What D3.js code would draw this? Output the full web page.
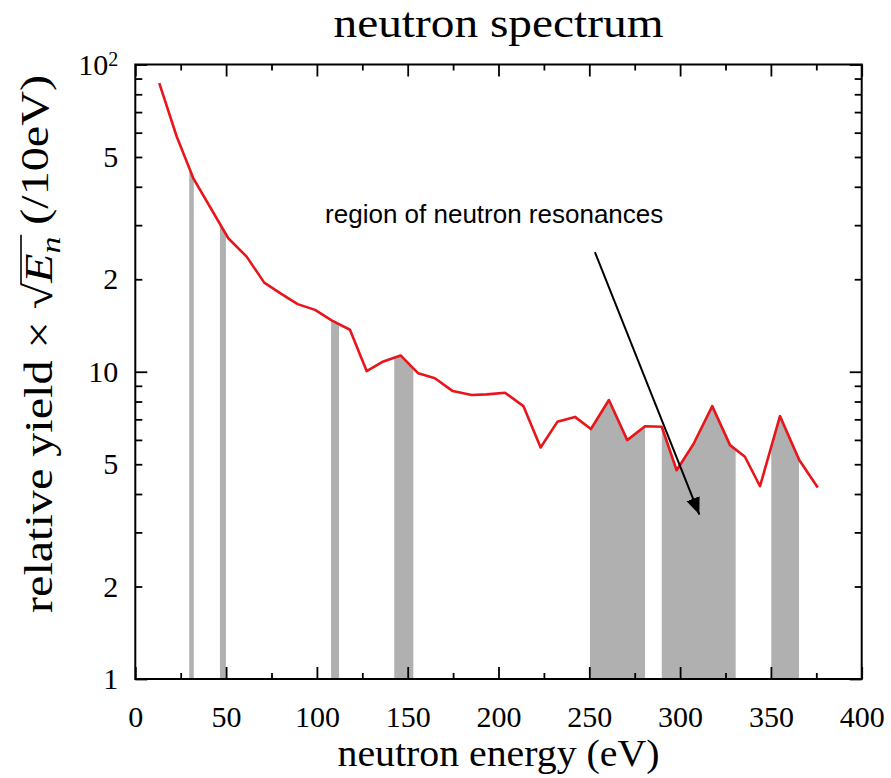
<!DOCTYPE html>
<html>
<head>
<meta charset="utf-8">
<script src="https://cdnjs.cloudflare.com/ajax/libs/d3/7.8.5/d3.min.js"></script>
<style>
body { margin: 0; background: #fff; }
.tick line { stroke: #000; stroke-width: 1.8; }
</style>
</head>
<body>
<svg id="chart" width="891" height="778"></svg>
<script>
// red curve: neutron energy (eV) / relative yield x sqrt(En)
const energy = [13.2, 22.8, 31.9, 51.2, 61.3, 71.0, 80.6, 89.4, 99.0, 108.1, 118.2, 127.4, 136.6,
	146.1, 155.8, 165.0, 174.8, 185.2, 193.5, 203.6, 213.7, 223.2, 232.4, 242.1, 250.9, 260.8,
	270.9, 280.7, 289.9, 298.1, 307.3, 317.7, 327.5, 335.7, 344.0, 355.0, 365.6, 375.8];
const yieldSqrtE = [87.0, 58.3, 42.7, 27.2, 23.7, 19.5, 17.9, 16.6, 15.9, 14.7, 13.7, 10.05, 10.8,
	11.3, 9.88, 9.52, 8.65, 8.40, 8.44, 8.54, 7.73, 5.67, 6.87, 7.13, 6.51, 8.09,
	5.99, 6.65, 6.62, 4.78, 5.81, 7.73, 5.77, 5.29, 4.24, 7.17, 5.16, 4.20];

// grey resonance windows (eV)
const bandFrom = [29.7, 46.6, 107.8, 142.6, 250.4, 289.9, 350.2];
const bandTo = [32.2, 49.9, 112.2, 153.1, 280.7, 330.6, 365.5];

const xMajorTicks = [0, 50, 100, 150, 200, 250, 300, 350, 400];
const xMinorTicks = [25, 75, 125, 175, 225, 275, 325, 375];
const yMajorTicks = [1, 10, 100];
const yMinorTicks = [2, 3, 4, 5, 6, 7, 8, 9, 20, 30, 40, 50, 60, 70, 80, 90];
const yLabelTicks = [1, 2, 5, 10, 20, 50, 100];
const yLabelText = ["1", "2", "5", "10", "2", "5", "10^2"];

// annotation anchor points, in data units
const noteText = "region of neutron resonances";
const notePos = [104.5, 30.5];
const arrowFrom = [253.1, 24.5];
const arrowTo = [310.6, 3.43];

const pLeft = 135.3, pRight = 861.7, pTop = 64.5, pBottom = 679;
const SERIF = "'Liberation Serif', 'Times New Roman', serif";

const svg = d3.select('#chart');
const x = d3.scaleLinear().domain([0, 400]).range([pLeft, pRight]);
const y = d3.scaleLog().domain([1, 100]).range([pBottom, pTop]);

const pts = energy.map((e, i) => [e, yieldSqrtE[i]]);

// shaded windows = area under the curve clipped to each window
const clip = svg.append('defs').append('clipPath').attr('id', 'bands');
clip.selectAll('rect').data(bandFrom).join('rect')
	.attr('x', (d, i) => x(d))
	.attr('width', (d, i) => x(bandTo[i]) - x(d))
	.attr('y', pTop)
	.attr('height', pBottom - pTop);

svg.append('path')
	.datum(pts)
	.attr('clip-path', 'url(#bands)')
	.attr('fill', '#b0b0b0')
	.attr('d', d3.area().x(d => x(d[0])).y0(pBottom).y1(d => y(d[1])));

svg.append('path')
	.datum(pts)
	.attr('fill', 'none')
	.attr('stroke', '#e8161b')
	.attr('stroke-width', 2.6)
	.attr('stroke-linejoin', 'round')
	.attr('d', d3.line().x(d => x(d[0])).y(d => y(d[1])));

// axes: ticks point inwards on all four sides
var addAxis = function(axis, tx, ty) {
	var g = svg.append('g').attr('transform', 'translate(' + tx + ',' + ty + ')').call(axis);
	g.select('.domain').remove();
	return g;
};
const none = () => "";
addAxis(d3.axisBottom(x).tickValues(xMinorTicks).tickSize(-6).tickFormat(none), 0, pBottom);
addAxis(d3.axisTop(x).tickValues(xMinorTicks).tickSize(-6).tickFormat(none), 0, pTop);
addAxis(d3.axisTop(x).tickValues(xMajorTicks).tickSize(-12).tickFormat(none), 0, pTop);
var xg = addAxis(d3.axisBottom(x).tickValues(xMajorTicks).tickSize(-12).tickPadding(27), 0, pBottom);
xg.selectAll('text').attr('font-family', SERIF).attr('font-size', 30).attr('fill', '#000');

addAxis(d3.axisLeft(y).tickValues(yMinorTicks).tickSize(-7).tickFormat(none), pLeft, 0);
addAxis(d3.axisRight(y).tickValues(yMinorTicks).tickSize(-7).tickFormat(none), pRight, 0);
addAxis(d3.axisLeft(y).tickValues(yMajorTicks).tickSize(-12).tickFormat(none), pLeft, 0);
addAxis(d3.axisRight(y).tickValues(yMajorTicks).tickSize(-12).tickFormat(none), pRight, 0);
var yg = addAxis(d3.axisLeft(y).tickValues(yLabelTicks).tickSize(0).tickPadding(17)
	.tickFormat((d, i) => yLabelText[i]), pLeft, 0);
yg.selectAll('text').attr('font-family', SERIF).attr('font-size', 30).attr('fill', '#000');
// 10^2 gets a real superscript
yg.selectAll('text').filter(d => d === 100).each(function() {
	var t = d3.select(this).text('');
	t.append('tspan').text('10');
	t.append('tspan').attr('font-size', 20).attr('dy', '-0.45em').text('2');
});
yg.selectAll('.tick line').remove();

svg.append('rect')
	.attr('x', pLeft).attr('y', pTop)
	.attr('width', pRight - pLeft).attr('height', pBottom - pTop)
	.attr('fill', 'none').attr('stroke', '#000').attr('stroke-width', 2);

// titles
svg.append('text')
	.attr('x', (pLeft + pRight) / 2).attr('y', 37)
	.attr('text-anchor', 'middle')
	.attr('font-family', SERIF).attr('font-size', 43)
	.attr('textLength', 330).attr('lengthAdjust', 'spacingAndGlyphs')
	.text('neutron spectrum');

svg.append('text')
	.attr('x', (pLeft + pRight) / 2).attr('y', 766)
	.attr('text-anchor', 'middle')
	.attr('font-family', SERIF).attr('font-size', 37)
	.attr('textLength', 322).attr('lengthAdjust', 'spacingAndGlyphs')
	.text('neutron energy (eV)');

var yt = svg.append('g').attr('transform', 'translate(52,344) rotate(-90)');
var ytext = yt.append('text')
	.attr('text-anchor', 'middle')
	.attr('font-family', SERIF).attr('font-size', 40)
	.attr('textLength', 538).attr('lengthAdjust', 'spacingAndGlyphs');
const pre = 'relative yield \u00d7 ';
ytext.append('tspan').text(pre);
ytext.append('tspan').text('\u221a');
ytext.append('tspan').attr('font-style', 'italic').text('E');
ytext.append('tspan').attr('font-style', 'italic').attr('font-size', 28).attr('dy', '0.3em').text('n');
ytext.append('tspan').attr('dy', '-0.3em').text(' (/10eV)');
// overline of the square root
var node = ytext.node();
var rad = node.getExtentOfChar(pre.length);
var sub = node.getExtentOfChar(pre.length + 2);
yt.append('line')
	.attr('x1', rad.x + rad.width - 1).attr('x2', sub.x + sub.width + 2)
	.attr('y1', -31).attr('y2', -31)
	.attr('stroke', '#000').attr('stroke-width', 1.6);

// annotation
svg.append('text')
	.attr('x', x(notePos[0])).attr('y', y(notePos[1]))
	.attr('font-family', "'Liberation Sans', Arial, sans-serif").attr('font-size', 26)
	.text(noteText);

svg.append('defs').append('marker')
	.attr('id', 'head')
	.attr('markerUnits', 'userSpaceOnUse')
	.attr('markerWidth', 18).attr('markerHeight', 16)
	.attr('refX', 17).attr('refY', 8)
	.attr('orient', 'auto')
	.append('path').attr('d', 'M0,1 L17,8 L0,15 Z').attr('fill', '#000');

svg.append('line')
	.attr('x1', x(arrowFrom[0])).attr('y1', y(arrowFrom[1]))
	.attr('x2', x(arrowTo[0])).attr('y2', y(arrowTo[1]))
	.attr('stroke', '#000').attr('stroke-width', 2)
	.attr('marker-end', 'url(#head)');
</script>
</body>
</html>
